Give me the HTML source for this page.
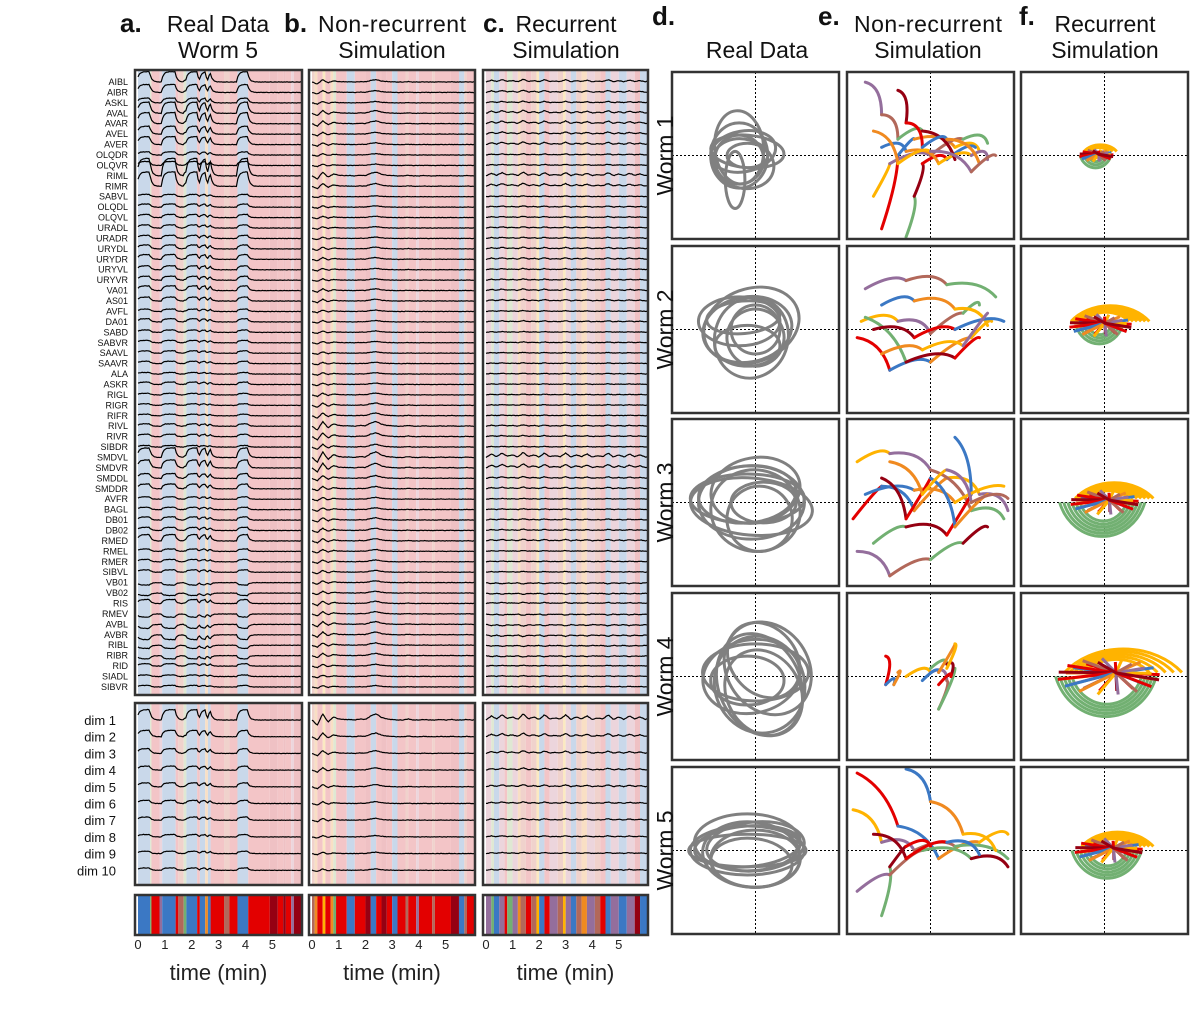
<!DOCTYPE html>
<html><head><meta charset="utf-8"><style>
body{margin:0;background:#fff;}
svg{display:block;font-family:"Liberation Sans",sans-serif;}
</style></head><body>
<svg id="fig" width="1200" height="1023" viewBox="0 0 1200 1023" xmlns="http://www.w3.org/2000/svg">
<g id="bgL"></g>
<g id="trL"></g>
<g id="frL"></g>
<g id="rtL"></g>
<g id="txL"></g>
</svg>
<script>
const neurons=["AIBL","AIBR","ASKL","AVAL","AVAR","AVEL","AVER","OLQDR","OLQVR","RIML","RIMR","SABVL","OLQDL","OLQVL","URADL","URADR","URYDL","URYDR","URYVL","URYVR","VA01","AS01","AVFL","DA01","SABD","SABVR","SAAVL","SAAVR","ALA","ASKR","RIGL","RIGR","RIFR","RIVL","RIVR","SIBDR","SMDVL","SMDVR","SMDDL","SMDDR","AVFR","BAGL","DB01","DB02","RMED","RMEL","RMER","SIBVL","VB01","VB02","RIS","RMEV","AVBL","AVBR","RIBL","RIBR","RID","SIADL","SIBVR"];
const ampA=[1.3,1.0,0.6,1.4,1.4,1.0,1.0,0.4,0.5,2.2,1.8,0.3,0.4,0.4,0.4,0.4,0.5,0.6,0.5,0.5,0.6,0.5,0.3,0.4,0.3,0.3,0.3,0.3,0.2,0.3,0.2,0.2,0.2,0.3,0.3,0.2,1.2,1.0,0.6,0.6,0.3,0.3,0.4,0.4,0.8,0.3,0.3,0.3,-0.3,-0.3,0.5,-0.4,-0.5,-0.6,-0.4,-0.4,0.3,0.2,0.2];
const ampB=[0.5,0.4,0.3,0.6,0.6,0.4,0.4,0.3,0.3,0.8,0.6,0.2,0.3,0.3,0.3,0.3,0.4,0.4,0.3,0.3,0.4,0.4,0.3,0.3,0.3,0.3,0.3,0.3,0.3,0.3,0.4,0.5,0.6,1.0,0.8,0.6,1.2,1.0,0.6,0.5,0.4,0.4,0.5,0.5,0.5,0.4,0.4,0.4,0.4,0.4,0.5,0.5,0.6,0.6,0.5,0.5,0.4,0.3,0.3];
const ampC=[0.6,0.5,0.4,0.7,0.7,0.6,0.6,0.3,0.3,0.8,0.7,0.2,0.3,0.3,0.3,0.3,0.4,0.4,0.3,0.3,0.4,0.4,0.2,0.3,0.2,0.2,0.2,0.2,0.2,0.2,0.2,0.2,0.2,0.3,0.3,0.2,1.1,0.9,0.4,0.4,0.2,0.2,0.3,0.3,0.4,0.2,0.2,0.2,-0.3,-0.3,0.3,-0.3,-0.4,-0.4,-0.3,-0.3,0.2,0.2,0.2];
const jitter=[0.1,-0.15,0.05,0.2,-0.1,0.0,0.15,-0.2,0.1,-0.05,0.2,-0.1,0.05,-0.15,0.1,0.0];
const segA=[[0,0.45,"B"],[0.45,0.5,"G"],[0.5,0.8,"R"],[0.8,0.9,"P"],[0.9,1.4,"B"],[1.4,1.5,"R"],[1.5,1.7,"Br"],[1.7,1.8,"G"],[1.8,2.2,"B"],[2.2,2.3,"R"],[2.3,2.5,"B"],[2.5,2.6,"O"],[2.6,2.7,"B"],[2.7,3.2,"R"],[3.2,3.4,"Br"],[3.4,3.7,"R"],[3.7,4.1,"B"],[4.1,4.9,"R"],[4.9,5.2,"D"],[5.2,5.4,"R"],[5.4,5.5,"D"],[5.5,5.7,"R"],[5.7,5.8,"P"],[5.8,6.2,"D"]];
const segB=[[0,0.1,"Br"],[0.1,0.2,"O"],[0.2,0.4,"R"],[0.4,0.5,"Y"],[0.5,0.7,"R"],[0.7,0.8,"O"],[0.8,0.9,"G"],[0.9,1.3,"R"],[1.3,1.6,"B"],[1.6,2.0,"R"],[2.0,2.2,"D"],[2.2,2.4,"B"],[2.4,2.6,"R"],[2.6,2.8,"D"],[2.8,3.0,"R"],[3.0,3.2,"B"],[3.2,3.5,"R"],[3.5,3.6,"Br"],[3.6,3.9,"R"],[3.9,4.0,"P"],[4.0,4.5,"R"],[4.5,4.6,"Br"],[4.6,5.2,"R"],[5.2,5.5,"D"],[5.5,5.7,"B"],[5.7,5.8,"Br"],[5.8,6.2,"R"]];
const segC=[[0,0.2,"P"],[0.2,0.3,"G"],[0.3,0.5,"B"],[0.5,0.7,"P"],[0.7,0.8,"R"],[0.8,1.0,"G"],[1.0,1.2,"P"],[1.2,1.3,"O"],[1.3,1.5,"Br"],[1.5,1.7,"R"],[1.7,1.9,"Br"],[1.9,2.0,"Y"],[2.0,2.2,"B"],[2.2,2.4,"R"],[2.4,2.7,"P"],[2.7,2.9,"Br"],[2.9,3.0,"Y"],[3.0,3.2,"P"],[3.2,3.4,"B"],[3.4,3.6,"Br"],[3.6,3.8,"O"],[3.8,4.1,"P"],[4.1,4.3,"Br"],[4.3,4.5,"R"],[4.5,4.7,"B"],[4.7,5.0,"P"],[5.0,5.3,"B"],[5.3,5.6,"P"],[5.6,5.8,"D"],[5.8,6.2,"B"]];
const profB=[0,-0.5,0.6,-0.2,0.3,0.1,0.05,0.05,0,0.1,0.05,0.4,0.6,0.25,0.1,0.05,0,0,0.1,0,0,0.05,0,0,0.05,0,0.05,0,0,0.05,0,0];
const profC=[0,0.4,0.1,0.5,0.15,0.3,0.05,0.6,0.1,0.3,0.05,0.5,0.1,0.2,0.1,0.5,0.05,0.3,0.1,0.4,0.05,0.2,0.1,0.5,0.05,0.3,0.05,0.4,0.1,0.3,0.05,0.2];
const dimAmp=[1.3,0.8,0.6,0.5,0.5,0.4,0.4,0.3,0.3,0.3];
const dimLabels=["dim 1","dim 2","dim 3","dim 4","dim 5","dim 6","dim 7","dim 8","dim 9","dim 10"];
const tickLabels=["0","1","2","3","4","5"];
const strong={B:"#3b78c4",R:"#e30000",D:"#950012",G:"#72b072",O:"#f08a20",Y:"#ffb300",P:"#946e9c",Br:"#b2685a"};
const pale={B:"#c9d8ea",R:"#f3c5c7",D:"#efc1c4",G:"#dfe8d3",O:"#f9dfc4",Y:"#fbe9c2",P:"#ecd5dc",Br:"#f0d2cc"};

const NS="http://www.w3.org/2000/svg";
function mk(tag,at,parent){const e=document.createElementNS(NS,tag);for(const k in at)e.setAttribute(k,at[k]);parent.appendChild(e);return e;}
const bgL=document.getElementById("bgL"),trL=document.getElementById("trL"),frL=document.getElementById("frL"),txL=document.getElementById("txL"),rtL=document.getElementById("rtL");
const panels=[{x:135,w:167,seg:segA,amp:ampA,kind:"a"},{x:309,w:166,seg:segB,amp:ampB,kind:"b"},{x:483,w:165,seg:segC,amp:ampC,kind:"c"}];
const TMAX=6.1;
function xT(p,t){return p.x+3+t/TMAX*(p.w-3);}
function yN(i){return 82+10.43*i;}
function yD(k){return 720+16.7*k;}
function stateAt(seg,t){for(const s of seg)if(t>=s[0]&&t<s[1])return s[2];return seg[seg.length-1][2];}
function profile(p,t){
  if(p.kind==="a"){const s=stateAt(p.seg,t);return s==="B"?1:(s==="G"?0.3:0);}
  const arr=p.kind==="b"?profB:profC;const f=t/0.2;const i=Math.min(Math.floor(f),arr.length-2);const r=f-i;return arr[i]*(1-r)+arr[i+1]*r;
}
function tracePath(p,amp,y0,off){
  let d="";let prev=0;
  for(let k=0;k<=120;k++){const t=k/120*TMAX;let v=profile(p,t);
    if(p.kind==="a"){v=prev+(v-prev)*0.5;prev=v;}
    const y=y0-amp*8*v+jitter[(k+off)%16]*1.2;
    d+=(k?"L":"M")+xT(p,t).toFixed(1)+" "+y.toFixed(1);}
  return d;
}
panels.forEach((p,pi)=>{
  [[70,625],[703,182]].forEach(([y,h],bi)=>{
    p.seg.forEach(s=>{
      const r=mk("rect",{x:xT(p,s[0]),y:y,width:Math.max(0,Math.min(xT(p,s[1]),p.x+p.w)-xT(p,s[0])),height:h,fill:pale[s[2]]},bgL);
      
      
    });
    const f=mk("rect",{x:p.x,y:y,width:p.w,height:h,fill:"none",stroke:"#333",'stroke-width':2.5},frL);
    
    
  });
  p.amp.forEach((a,i)=>{
    const e=mk("path",{d:tracePath(p,a,yN(i),i*3),fill:"none",stroke:"#000",'stroke-width':1.2},trL);
    
    
  });
  dimAmp.forEach((a,k)=>{
    const e=mk("path",{d:tracePath(p,a,yD(k),k*5),fill:"none",stroke:"#000",'stroke-width':1.2},trL);
    
    
  });
  p.seg.forEach(s=>{
    const r=mk("rect",{x:xT(p,s[0]),y:895,width:Math.max(0,Math.min(xT(p,s[1]),p.x+p.w)-xT(p,s[0])),height:40,fill:strong[s[2]]},bgL);
    
    
  });
  const fb=mk("rect",{x:p.x,y:895,width:p.w,height:40,fill:"none",stroke:"#333",'stroke-width':2.5},frL);
  
  
  tickLabels.forEach((l,k)=>{
    const t=mk("text",{x:xT(p,+l),y:949,'font-size':13,'text-anchor':'middle',fill:'#222'},txL);t.textContent=l;
    
    
  });
  const xl=mk("text",{x:p.x+p.w/2,y:980,'font-size':22,'text-anchor':'middle',fill:'#222'},txL);xl.textContent="time (min)";
  
  
});
neurons.forEach((n,i)=>{
  const t=mk("text",{x:128,y:yN(i)+3,'font-size':9,'text-anchor':'end',fill:'#111'},txL);t.textContent=n;
  
  
});
dimLabels.forEach((n,k)=>{
  const t=mk("text",{x:116,y:yD(k)+5,'font-size':13,'text-anchor':'end',fill:'#111'},txL);t.textContent=n;
  
  
});
const heads=[["a.",120,32,true],["Real Data",218,32],["Worm 5",218,58],["b.",284,32,true],["Non-recurrent",392,32],["Simulation",392,58],["c.",483,32,true],["Recurrent",566,32],["Simulation",566,58],["d.",652,25,true],["Real Data",757,58],["e.",818,25,true],["Non-recurrent",928,32],["Simulation",928,58],["f.",1019,25,true],["Recurrent",1105,32],["Simulation",1105,58]];
heads.forEach(h=>{
  const t=mk("text",{x:h[1],y:h[2],'font-size':h[3]?26:23,'font-weight':h[3]?'bold':'normal','text-anchor':h[3]?'start':'middle',fill:'#111'},txL);t.textContent=h[0];
  if(!h[3]&&h[0]==="Non-recurrent")t.setAttribute('textLength','148');
  
  
});

const colX=[672,847,1021],rowY=[72,246,419,593,767],BOX=167;
const loopsW1=[[-0.2,0,0.35,0.4,0],[-0.2,-0.05,0.3,0.3,10],[-0.15,0.05,0.4,0.25,-10],[-0.25,-0.3,0.12,0.35,0],[-0.1,0.05,0.45,0.2,5],[-0.2,0.1,0.3,0.45,-5],[-0.15,-0.1,0.38,0.3,15],[-0.1,0,0.25,0.15,0]];
const loopsW2=[[-0.1,0,0.55,0.4,-10],[-0.05,-0.1,0.45,0.5,15],[-0.2,0.1,0.5,0.3,0],[0,-0.1,0.35,0.35,20],[-0.15,0.15,0.45,0.2,-5],[-0.05,0.05,0.6,0.45,-20],[-0.1,-0.2,0.4,0.25,0],[0,0,0.3,0.3,0]];
const loopsW3=[[-0.05,0,0.65,0.45,0],[0,-0.1,0.55,0.5,10],[-0.1,0.1,0.6,0.35,-5],[0.05,-0.2,0.4,0.4,15],[-0.1,0.05,0.7,0.3,0],[0,0.15,0.55,0.4,-10],[-0.05,-0.05,0.75,0.35,5],[0.1,0,0.4,0.25,0]];
const loopsW4=[[0.05,-0.1,0.55,0.6,-20],[0.1,-0.2,0.45,0.55,-30],[-0.05,0,0.6,0.45,-10],[0.05,-0.1,0.5,0.65,-25],[0,0.05,0.65,0.35,0],[0.15,0.1,0.5,0.6,-35],[-0.1,-0.05,0.45,0.3,0],[0.1,0.2,0.4,0.5,-40]];
const loopsW5=[[-0.1,0,0.7,0.3,0],[-0.05,-0.05,0.6,0.4,5],[-0.1,0.05,0.65,0.25,-5],[0,-0.1,0.55,0.35,0],[-0.1,0,0.72,0.2,0],[0,0.05,0.6,0.3,-5],[-0.05,-0.15,0.5,0.3,5],[-0.1,0.1,0.65,0.35,0]];
const loops=[loopsW1,loopsW2,loopsW3,loopsW4,loopsW5];
const nrW1=[[[-0.6,-0.9],[-0.4,0],[-0.2,0.2],[0.3,0.1],[0.6,0.05]],[[-0.7,-0.5],[-0.5,-0.1],[0,0],[0.4,0.2],[0.7,0.15]],[[-0.3,-1],[-0.2,-0.5],[-0.1,-0.1],[0.2,-0.05],[0.55,0.1]],[[-0.6,0.1],[-0.3,0.05],[0.1,-0.1],[0.5,0],[0.7,-0.05]],[[-0.8,0.9],[-0.6,0.5],[-0.4,0.2],[-0.1,0.3],[0.3,-0.05]],[[-0.4,0.8],[-0.3,0.4],[-0.1,0.1],[0.2,0.2],[0.6,-0.1]],[[-0.7,0.3],[-0.4,-0.1],[0,0.05],[0.5,-0.2],[0.8,0]]];
const nrW2=[[[-0.9,-0.1],[-0.5,-0.5],[0,-0.4],[0.5,-0.1],[0.75,0.1]],[[-0.85,0.1],[-0.4,0.1],[0,-0.05],[0.4,0.2],[0.6,0.3]],[[-0.8,0.15],[-0.3,-0.4],[0.3,-0.35],[0.6,-0.1]],[[-0.6,0.3],[-0.2,0.35],[0.3,0.25],[0.7,0.05]],[[-0.8,0.5],[-0.3,0.6],[0.2,0.55],[0.8,0.4]],[[-0.7,0],[-0.2,-0.1],[0.3,0],[0.9,0.1]],[[-0.6,-0.3],[-0.1,-0.25],[0.4,-0.2],[0.7,0.2]]];
const nrW3=[[[-0.95,-0.2],[-0.6,0.2],[-0.2,-0.1],[0.2,0.3],[0.6,0.1],[0.95,-0.1]],[[-0.9,0.5],[-0.5,0.6],[0,0.4],[0.5,-0.1],[0.9,-0.2]],[[-0.7,-0.5],[-0.3,-0.3],[0.2,-0.4],[0.5,0.1],[0.3,0.8]],[[-0.8,0.1],[-0.2,0.15],[0.3,0],[0.9,0.2]],[[-0.9,-0.6],[-0.5,-0.9],[0,-0.7],[0.4,-0.5],[0.7,-0.3]],[[-0.6,0.3],[-0.3,-0.2],[0,0.3],[0.3,-0.3],[0.7,0.1]],[[-0.5,0.5],[-0.1,0.1],[0.2,0.4],[0.5,0],[0.95,0.05]]];
const nrW4=[[[-0.55,0.25],[-0.55,-0.1],[-0.45,-0.1],[-0.4,0.05]],[[-0.3,0],[0,0.05],[0.2,-0.05],[0.1,-0.4],[0.3,0.1]],[[0,0.1],[0.2,0.15],[0.25,0],[0.1,-0.1]],[[-0.1,-0.05],[0.1,0.05],[0.3,0.4],[0.2,0.1]]];
const nrW5=[[[-0.9,0.95],[-0.4,0.3],[0.1,-0.1],[0.6,0.1],[0.95,0.2]],[[-0.95,0.5],[-0.6,0.1],[-0.2,0],[0.3,0.05],[0.95,-0.1]],[[-0.6,-0.8],[-0.5,-0.2],[-0.3,0.05],[0,0.05]],[[-0.3,1],[0,0.6],[0.4,0.2],[0.8,0]],[[-0.9,-0.5],[-0.5,-0.3],[-0.1,0],[0.5,-0.1],[0.95,-0.2]],[[-0.7,0.2],[-0.3,-0.1],[0.2,0.1],[0.6,-0.05]]];
const nr=[nrW1,nrW2,nrW3,nrW4,nrW5];
const recCx=[-0.1,-0.05,0,0.05,0.05],recCy=[0,0.05,0,0,0];
const recW=[0.3,0.55,0.6,0.9,0.6];
const orangeArcs=[[0.15,0.2,0.25],[0.35,0.4,0.45,0.5,0.55,0.6],[0.3,0.35,0.4,0.45,0.5,0.55,0.6],[0.5,0.6,0.7,0.8,0.9],[0.3,0.35,0.4,0.45,0.5,0.55]];
const greenArcs=[[0.1,0.15,0.2],[0.15,0.2,0.25,0.3],[0.3,0.35,0.4,0.45,0.5,0.55],[0.45,0.5,0.55,0.6,0.65],[0.25,0.3,0.35,0.4,0.45]];
const clusterAngles=[0.1,0.5,0.9,1.3,1.7,2.1,2.5,2.9,3.3,3.7,4.1,4.5,4.9,5.3,5.7,6.1];
const trajColors=["#e30000","#3b78c4","#f08a20","#ffb300","#946e9c","#b2685a","#72b072","#950012"];

rowY.forEach((y,r)=>{
  const wl=mk("text",{transform:`translate(673 ${y+BOX/2}) rotate(-90)`,'font-size':23,'text-anchor':'middle',fill:'#111'},txL);wl.textContent="Worm "+(r+1);
  
  
  colX.forEach((x,c)=>{
    const cx=x+BOX/2,cy=y+BOX/2,S=BOX/2-2;
    const px=v=>cx+v*S,py=v=>cy-v*S;
    const g=mk("g",{},rtL);
    
    
    mk("rect",{x:x,y:y,width:BOX,height:BOX,fill:'#fff'},g);
    const clip="clip"+r+c;const cp=mk("clipPath",{id:clip},g);mk("rect",{x:x,y:y,width:BOX,height:BOX},cp);
    const inner=mk("g",{'clip-path':`url(#${clip})`},g);
    mk("line",{x1:cx,y1:y,x2:cx,y2:y+BOX,stroke:'#000','stroke-dasharray':'2 2','stroke-width':1},inner);
    mk("line",{x1:x,y1:cy,x2:x+BOX,y2:cy,stroke:'#000','stroke-dasharray':'2 2','stroke-width':1},inner);
    if(c===0){
      loops[r].forEach(L=>{
        const e=mk("ellipse",{cx:px(L[0]),cy:py(L[1]),rx:L[2]*S,ry:L[3]*S,transform:`rotate(${L[4]} ${px(L[0])} ${py(L[1])})`,fill:'none',stroke:'#808080','stroke-width':3},inner);
        
        
      });
    } else if(c===1){
      nr[r].forEach((pts,pi2)=>{
        for(let k=0;k<pts.length-1;k++){
          const a=pts[k],b=pts[k+1];
          const e=mk("path",{d:`M${px(a[0])} ${py(a[1])} Q${px((a[0]+b[0])/2+0.1)} ${py((a[1]+b[1])/2+0.15)} ${px(b[0])} ${py(b[1])}`,fill:'none',stroke:trajColors[(pi2*3+k)%8],'stroke-width':3,'stroke-linecap':'round'},inner);
          
          
        }
      });
    } else {
      const ox=recCx[r],oy=recCy[r],w=recW[r];
      greenArcs[r].forEach(R=>{
        const e=mk("path",{d:`M${px(ox-R)} ${py(oy)} A${R*S} ${R*S*1.1} 0 0 0 ${px(ox+R*0.9)} ${py(oy)}`,fill:'none',stroke:'#72b072','stroke-width':3},inner);
        
        
      });
      orangeArcs[r].forEach(R=>{
        const e=mk("path",{d:`M${px(ox-R*0.6)} ${py(oy+0.05)} A${R*S} ${R*S*0.8} 0 0 1 ${px(ox+R)} ${py(oy+0.05)}`,fill:'none',stroke:'#ffb300','stroke-width':3},inner);
        
        
      });
      clusterAngles.forEach((a,qi)=>{
        const x0=ox+Math.cos(a)*w*0.7,y0=oy+Math.sin(a)*w*0.25;
        const e=mk("path",{d:`M${px(x0)} ${py(y0)} L${px(ox+0.1*w)} ${py(oy+0.05*w)} L${px(ox+Math.cos(a+2)*w*0.6)} ${py(oy+Math.sin(a+2)*w*0.2)}`,fill:'none',stroke:trajColors[qi%8===6?0:qi%8],'stroke-width':3,'stroke-linejoin':'round'},inner);
        
        
      });
    }
    mk("rect",{x:x,y:y,width:BOX,height:BOX,fill:'none',stroke:'#333','stroke-width':2.5},g);
  });
});
</script>
</body></html>
